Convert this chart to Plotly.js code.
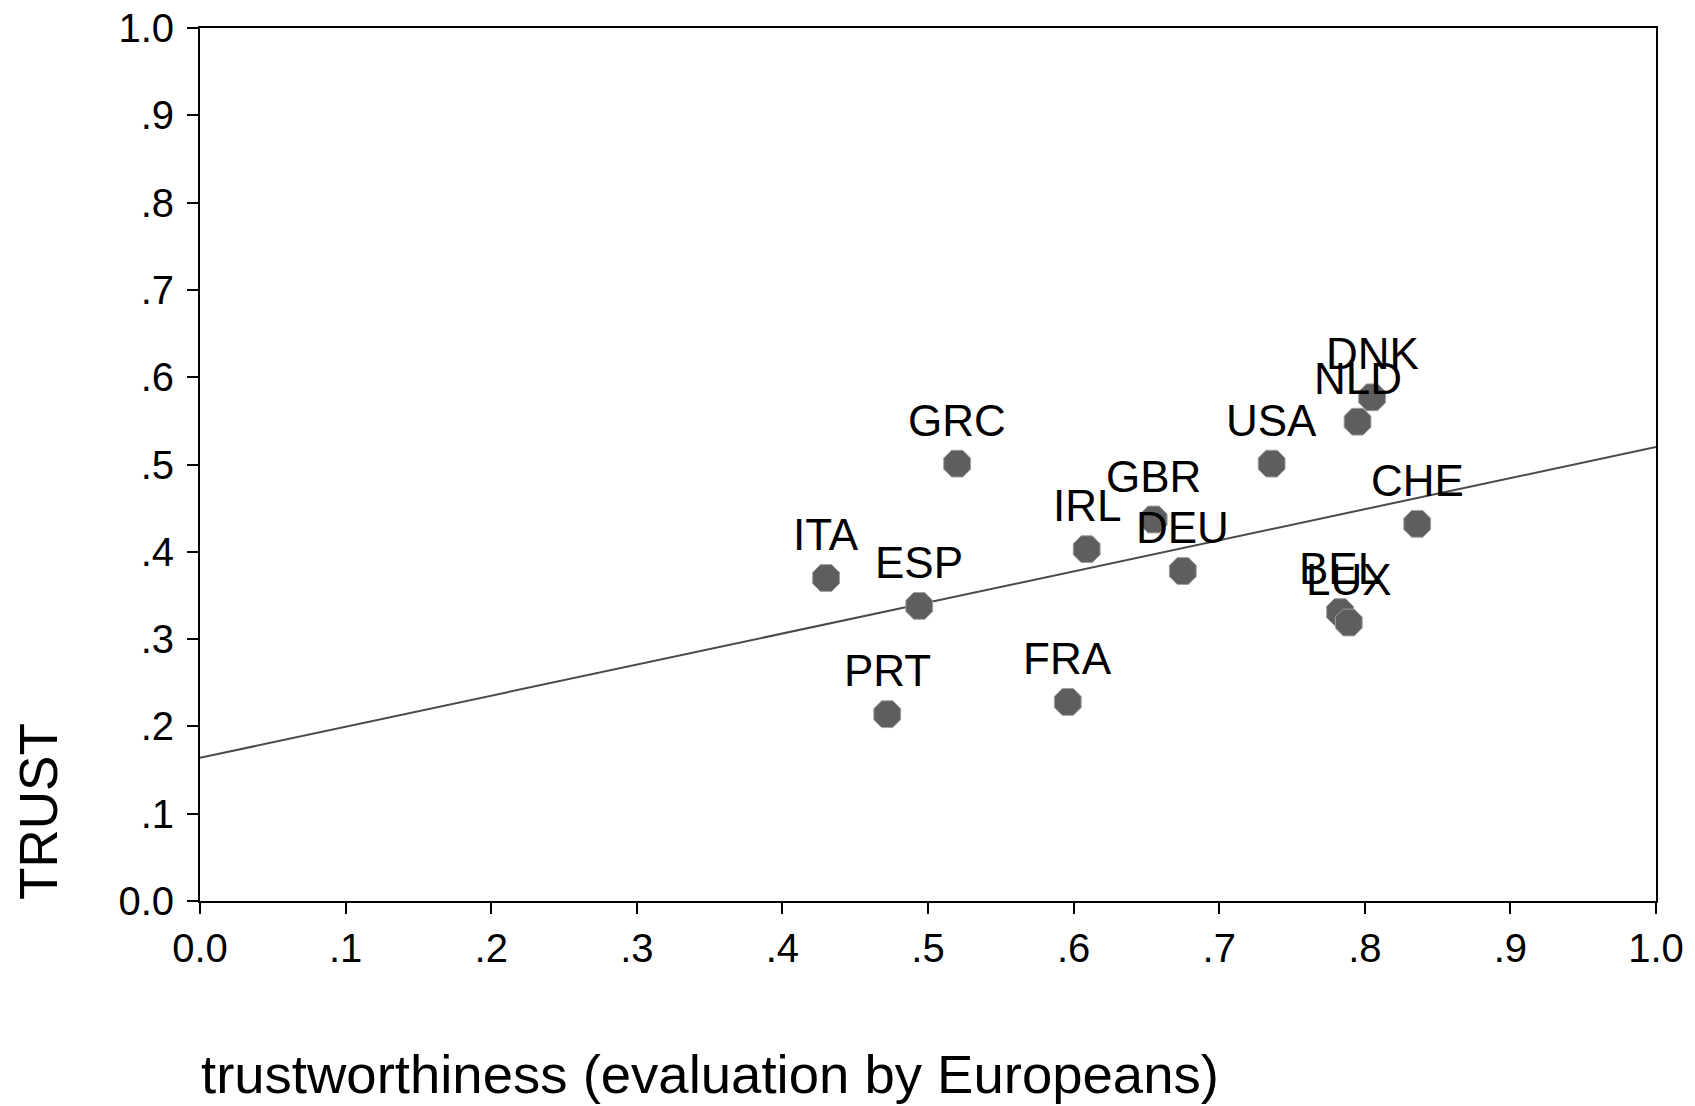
<!DOCTYPE html>
<html>
<head>
<meta charset="utf-8">
<script src="https://cdn.plot.ly/plotly-3.0.1.min.js"></script>
<style>
  html, body { margin: 0; padding: 0; background: #ffffff; }
  #chart { width: 1695px; height: 1106px; }
</style>
</head>
<body>
<div id="chart"></div>
<script>
// Country codes
const countries = ["ITA", "ESP", "PRT", "GRC", "FRA", "IRL", "GBR", "DEU", "USA", "NLD", "DNK", "CHE", "BEL", "LUX"];
// trustworthiness (evaluation by Europeans)
const trustworthiness = [0.430, 0.494, 0.472, 0.520, 0.596, 0.609, 0.655, 0.675, 0.736, 0.795, 0.805, 0.836, 0.783, 0.789];
// TRUST
const trust = [0.370, 0.338, 0.214, 0.501, 0.228, 0.403, 0.437, 0.378, 0.501, 0.549, 0.577, 0.432, 0.331, 0.319];
// fitted line
const fitIntercept = 0.164;
const fitSlope = 0.356;
const fitX = [0, 1];
// tick labels
const tickVals = [0, 0.1, 0.2, 0.3, 0.4, 0.5, 0.6, 0.7, 0.8, 0.9, 1.0];
const tickLabels = ["0.0", ".1", ".2", ".3", ".4", ".5", ".6", ".7", ".8", ".9", "1.0"];

const FONT = "Liberation Sans, Arial, sans-serif";

const fitTrace = {
  x: fitX,
  y: fitX.map(v => fitIntercept + fitSlope * v),
  mode: "lines",
  type: "scatter",
  line: { color: "#4a4a4a", width: 2 },
  hoverinfo: "skip",
  showlegend: false
};

const pointTrace = {
  x: trustworthiness,
  y: trust,
  text: countries,
  mode: "markers",
  type: "scatter",
  marker: {
    symbol: "octagon",
    size: 29,
    color: "#5e5e5e",
    line: { color: "#a0a0a0", width: 1 }
  },
  showlegend: false
};

const labelAnnotations = countries.map((c, i) => ({
  x: trustworthiness[i],
  y: trust[i],
  xref: "x",
  yref: "y",
  text: c,
  showarrow: false,
  xanchor: "center",
  yanchor: "bottom",
  yshift: 18,
  borderpad: 0,
  font: { family: FONT, size: 44, color: "#000000" }
}));

const axisCommon = {
  range: [0, 1],
  tickmode: "array",
  tickvals: tickVals,
  ticktext: tickLabels,
  ticks: "outside",
  ticklen: 11,
  tickwidth: 2,
  tickcolor: "#000000",
  showline: true,
  linewidth: 2,
  linecolor: "#000000",
  mirror: true,
  showgrid: false,
  zeroline: false,
  fixedrange: true,
  tickfont: { family: FONT, size: 40, color: "#000000" }
};

const layout = {
  width: 1695,
  height: 1106,
  paper_bgcolor: "#ffffff",
  plot_bgcolor: "#ffffff",
  margin: { l: 200, r: 39, t: 28, b: 205 },
  xaxis: Object.assign({}, axisCommon),
  yaxis: Object.assign({}, axisCommon, { ticklabelstandoff: 5 }),
  showlegend: false,
  annotations: labelAnnotations.concat([
    {
      xref: "paper", yref: "paper",
      x: -0.111, y: 0,
      xanchor: "center", yanchor: "bottom",
      text: "TRUST",
      textangle: -90,
      showarrow: false,
      borderpad: 0,
      font: { family: FONT, size: 53, color: "#000000" }
    },
    {
      xref: "paper", yref: "paper",
      x: 0, y: -0.199,
      xanchor: "left", yanchor: "middle",
      text: "trustworthiness (evaluation by Europeans)",
      showarrow: false,
      borderpad: 0,
      font: { family: FONT, size: 54.5, color: "#000000" }
    }
  ])
};

Plotly.newPlot("chart", [fitTrace, pointTrace], layout, { displayModeBar: false, staticPlot: true });
</script>
</body>
</html>
